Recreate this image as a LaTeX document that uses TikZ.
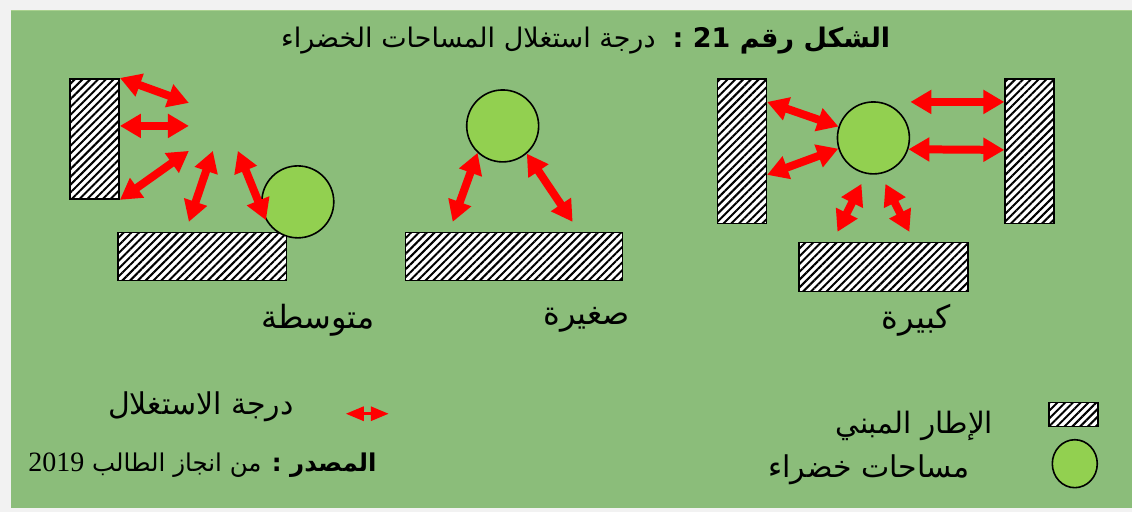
\documentclass[tikz,border=0pt]{standalone}
\usepackage{fontspec}
\setmainfont{Liberation Serif}
\newfontfamily\arabicfont[Script=Arabic]{DejaVu Sans}
\newfontfamily\latinfont{Liberation Serif}
\TeXXeTstate=1
\usetikzlibrary{arrows.meta,patterns.meta,shapes.geometric,calc}
\definecolor{fond}{RGB}{139,189,122}
\definecolor{bordfond}{RGB}{169,209,142}
\definecolor{vert}{RGB}{146,208,80}
\definecolor{cadre}{RGB}{242,242,242}
\begin{document}
\begin{tikzpicture}[x=1pt,y=-1pt,
    bati/.style={draw=black,line width=1.6pt,preaction={fill=white},
      pattern={Lines[angle=45,distance=5.5pt,line width=2pt]},inner sep=0pt,anchor=north west},
    espace/.style={circle,draw=black,line width=1.6pt,fill=vert,minimum size=72pt,inner sep=0pt},
    fleche/.style={red,line width=8pt,{Triangle[width=23pt,length=21pt]}-{Triangle[width=23pt,length=21pt]}},
    flechepetite/.style={red,line width=3pt,{Triangle[width=14pt,length=18pt]}-{Triangle[width=14pt,length=18pt]}},
    texte/.style={font=\arabicfont\fontsize{32}{35}\selectfont,inner sep=0pt}]
    \fill [cadre] (0,0) rectangle (1133,512);
    \fill [fond] (11,10) rectangle (1133,508);
    \draw [bordfond,line width=1.5pt] (11,10.75)--(1133,10.75);

    \node[texte,font=\arabicfont\fontsize{27}{30}\selectfont] (titre) at (586,41)
      {\beginR{\bfseries الشكل رقم \beginL 21\endL\ :}\ \ درجة استغلال المساحات الخضراء\endR};

    \node[bati,minimum width=49,minimum height=120] (murG) at (69,78) {};
    \node[bati,minimum width=169,minimum height=48] (blocG) at (117,232) {};
    \node[espace] (jardinG) at (298,202) {};
    \coordinate (g1) at (189,103);
    \coordinate (g2) at (189,126);
    \coordinate (g3) at (189,151);
    \coordinate (g4) at (213,151);
    \coordinate (g5) at (189,222);
    \coordinate (g6) at (238,151);
    \draw[fleche] (murG.north east)--(g1);
    \draw[fleche] ($(murG.north east)+(0,48)$)--(g2);
    \draw[fleche] (murG.south east)--(g3);
    \draw[fleche] (g4)--(g5);
    \draw[fleche] (g6)--(jardinG.210);
    \node[texte] (tMoy) at (318,320) {\beginR متوسطة\endR};

    \node[espace] (jardinP) at (503,126) {};
    \node[bati,minimum width=217,minimum height=48] (blocP) at (405,232) {};
    \coordinate (p1) at (453,222);
    \coordinate (p2) at (573,222);
    \draw[fleche] (jardinP.227)--(p1);
    \draw[fleche] (jardinP.311)--(p2);
    \node[texte] (tPet) at (587,320) {\beginR صغيرة\endR};

    \node[bati,minimum width=49,minimum height=145] (murK1) at (717,78) {};
    \node[bati,minimum width=49,minimum height=145] (murK2) at (1005,78) {};
    \node[bati,minimum width=169,minimum height=49] (blocK) at (799,242) {};
    \node[espace] (jardinK) at (874,138) {};
    \coordinate (k1) at (911,102);
    \coordinate (k2) at (862,184);
    \coordinate (k3) at (838,232);
    \coordinate (k4) at (886,184);
    \coordinate (k5) at (910,232);
    \draw[fleche] ($(murK1.north east)+(0,24)$)--(jardinK.162);
    \draw[fleche] ($(murK1.north east)+(0,97)$)--(jardinK.197);
    \draw[fleche] (k1)--($(murK2.north west)+(0,24)$);
    \draw[fleche] (jardinK.342)--($(murK2.north west)+(0,72)$);
    \draw[fleche] (k2)--(k3);
    \draw[fleche] (k4)--(k5);
    \node[texte] (tGra) at (917,320) {\beginR كبيرة\endR};

    \coordinate (la) at (346,414);
    \coordinate (lb) at (389,414);
    \draw[flechepetite] (la)--(lb);
    \node[texte,font=\arabicfont\fontsize{30}{33}\selectfont] (tDeg) at (201,407) {\beginR درجة الاستغلال\endR};
    \node[texte,font=\arabicfont\fontsize{24.5}{28}\selectfont,anchor=east] (tSrc) at (377,465)
      {\beginR{\bfseries المصدر :} من انجاز الطالب \beginL{\latinfont\fontsize{28}{30}\selectfont 2019}\endL\endR};

    \node[bati,minimum width=49,minimum height=24] (legBati) at (1049,402) {};
    \node[espace,ellipse,minimum width=45,minimum height=48] (legVert) at (1075.5,464) {};
    \node[texte,font=\arabicfont\fontsize{29.5}{32}\selectfont,anchor=east] (tBati) at (994,426) {\beginR الإطار المبني\endR};
    \node[texte,font=\arabicfont\fontsize{30}{33}\selectfont,anchor=east] (tVert) at (970,470) {\beginR مساحات خضراء\endR};
\end{tikzpicture}
\end{document}
